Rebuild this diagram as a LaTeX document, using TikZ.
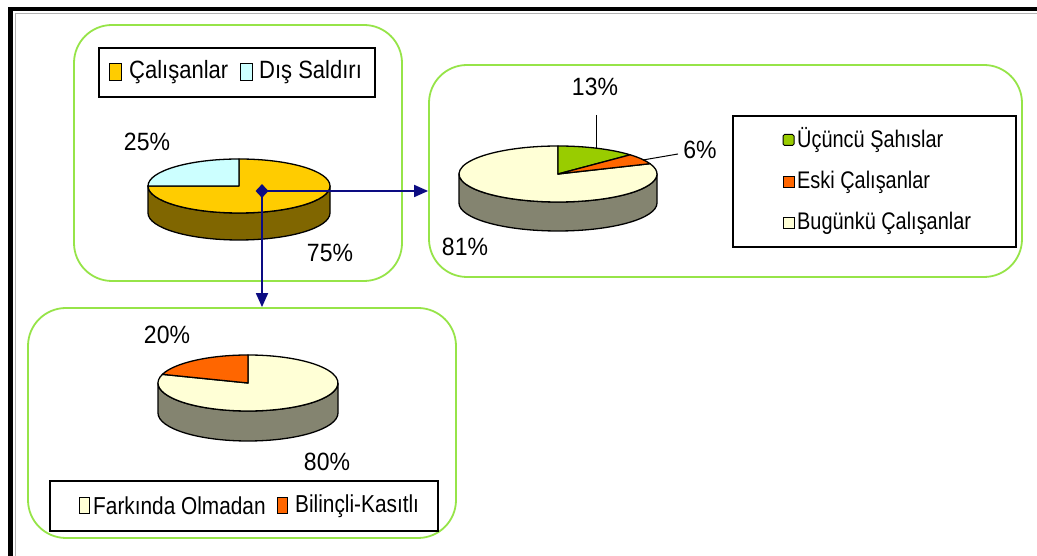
\documentclass[tikz,border=0pt]{standalone}
\usepackage{fontspec}
\setmainfont{Liberation Sans}
\newfontfamily\pctfont[FakeStretch=0.92]{Liberation Sans}
\newfontfamily\legAfont[FakeStretch=0.88]{Liberation Sans}
\newfontfamily\legBfont[FakeStretch=0.83]{Liberation Sans}
\newfontfamily\legCfont[FakeStretch=0.85]{Liberation Sans}
\usetikzlibrary{arrows.meta,shapes.geometric}

\definecolor{panelgreen}{RGB}{150,228,72}
\definecolor{arrownavy}{RGB}{12,12,130}
\definecolor{sliceyellow}{RGB}{255,204,0}
\definecolor{sidebrown}{RGB}{128,102,0}
\definecolor{slicecyan}{RGB}{204,255,255}
\definecolor{slicecream}{RGB}{255,255,214}
\definecolor{sidegrey}{RGB}{132,132,112}
\definecolor{slicegreen}{RGB}{153,204,0}
\definecolor{sliceorange}{RGB}{255,102,0}

\tikzset{
  panel/.style={draw=panelgreen, line width=1.8pt, rounded corners=38pt, inner sep=0pt},
  legendbox/.style={draw=black, line width=1.6pt, fill=white, inner sep=0pt},
  pieedge/.style={draw=black, line width=1.3pt, line join=round},
  pct/.style={font=\pctfont\fontsize{25}{27}\selectfont, inner sep=0pt},
  legtextA/.style={font=\legAfont\fontsize{25}{27}\selectfont, inner sep=0pt, anchor=west},
  legtextB/.style={font=\legBfont\fontsize{24}{26}\selectfont, inner sep=0pt, anchor=west},
  legtextC/.style={font=\legCfont\fontsize{24.5}{26}\selectfont, inner sep=0pt, anchor=west},
  swatch/.style={draw=black, line width=1pt, inner sep=0pt, minimum width=#1},
  flow/.style={draw=arrownavy, line width=1.8pt, -{Triangle[length=14pt,width=12pt]}},
  leader/.style={draw=black, line width=1pt}
}

\begin{document}
\begin{tikzpicture}[x=1pt,y=1pt]
\useasboundingbox (0,0) rectangle (1037,556);
\fill[white] (0,0) rectangle (1037,556);

% outer frame (top and left edges)
\fill[black] (8,545) rectangle (1037,549);
\fill[black] (8,0) rectangle (13,549);
\draw[gray!60, line width=0.8pt] (15,0) -- (15,543) -- (1037,543);

% rounded panels
\node[panel, minimum width=328pt, minimum height=256pt] (panelA) at (238,403) {};
\node[panel, minimum width=593pt, minimum height=212pt] (panelB) at (725.5,385) {};
\node[panel, minimum width=428pt, minimum height=230pt] (panelC) at (242,133) {};

% ---- pie: Çalışanlar / Dış Saldırı ----
\coordinate (cA) at (239,370);
\filldraw[pieedge, fill=sidebrown] ([shift={(-91,0)}]cA) arc[start angle=180,end angle=360,x radius=91,y radius=27]
  -- ++(0,-27) arc[start angle=360,end angle=180,x radius=91,y radius=27] -- cycle;
\filldraw[pieedge, fill=sliceyellow] (cA) -- ++(180:91 and 27) arc[start angle=180,end angle=450,x radius=91,y radius=27] -- cycle;
\filldraw[pieedge, fill=slicecyan] (cA) -- ++(90:91 and 27) arc[start angle=90,end angle=180,x radius=91,y radius=27] -- cycle;
\node[pct] (pA1) at (147,414) {25\%};
\node[pct] (pA2) at (330,303) {75\%};

\node[legendbox, minimum width=276pt, minimum height=49pt] (legA) at (237,483.5) {};
\node[swatch=12pt, minimum height=17pt, fill=sliceyellow] (swA1) at (115,484) {};
\node[legtextA] (tA1) at (129,484) {Çalışanlar};
\node[swatch=12pt, minimum height=17pt, fill=slicecyan] (swA2) at (246.5,484) {};
\node[legtextA] (tA2) at (259,484) {Dış Saldırı};

% ---- pie: third parties / former / current staff ----
\coordinate (cB) at (558,382);
\filldraw[pieedge, fill=sidegrey] ([shift={(-99,0)}]cB) arc[start angle=180,end angle=360,x radius=99,y radius=28]
  -- ++(0,-29) arc[start angle=360,end angle=180,x radius=99,y radius=28] -- cycle;
\filldraw[pieedge, fill=slicecream] (cB) -- ++(21.6:99 and 28) arc[start angle=21.6,end angle=-270,x radius=99,y radius=28] -- cycle;
\filldraw[pieedge, fill=slicegreen] (cB) -- ++(90:99 and 28) arc[start angle=90,end angle=43.2,x radius=99,y radius=28] -- cycle;
\filldraw[pieedge, fill=sliceorange] (cB) -- ++(43.2:99 and 28) arc[start angle=43.2,end angle=21.6,x radius=99,y radius=28] -- cycle;
\node[pct] (pB1) at (595,469) {13\%};
\node[pct] (pB2) at (700,406) {6\%};
\node[pct] (pB3) at (465,309) {81\%};
\coordinate (lB1) at (596,441);
\coordinate (lB1e) at (596,408);
\coordinate (lB2) at (678,402);
\coordinate (lB2e) at (643,396);
\draw[leader] (lB1) -- (lB1e);
\draw[leader] (lB2) -- (lB2e);

\node[legendbox, minimum width=283pt, minimum height=131pt] (legB) at (874.5,374.5) {};
\node[swatch=11pt, minimum height=11pt, fill=slicegreen, rounded corners=1.5pt] (swB1) at (788.5,416) {};
\node[legtextB] (tB1) at (797,416) {Üçüncü Şahıslar};
\node[swatch=11pt, minimum height=11pt, fill=sliceorange] (swB2) at (788.5,374) {};
\node[legtextB] (tB2) at (797,374) {Eski Çalışanlar};
\node[swatch=11pt, minimum height=11pt, fill=slicecream] (swB3) at (788.5,333) {};
\node[legtextB] (tB3) at (797,333) {Bugünkü Çalışanlar};

% ---- pie: Farkında Olmadan / Bilinçli-Kasıtlı ----
\coordinate (cC) at (248,173);
\filldraw[pieedge, fill=sidegrey] ([shift={(-90,0)}]cC) arc[start angle=180,end angle=360,x radius=90,y radius=28]
  -- ++(0,-30) arc[start angle=360,end angle=180,x radius=90,y radius=28] -- cycle;
\filldraw[pieedge, fill=slicecream] (cC) -- ++(162:90 and 28) arc[start angle=162,end angle=450,x radius=90,y radius=28] -- cycle;
\filldraw[pieedge, fill=sliceorange] (cC) -- ++(90:90 and 28) arc[start angle=90,end angle=162,x radius=90,y radius=28] -- cycle;
\node[pct] (pC1) at (167,221) {20\%};
\node[pct] (pC2) at (327,94) {80\%};

\node[legendbox, minimum width=388pt, minimum height=50pt] (legC) at (244,50) {};
\node[swatch=10pt, minimum height=16pt, fill=slicecream] (swC1) at (84,50) {};
\node[legtextC] (tC1) at (93,50) {Farkında Olmadan};
\node[swatch=10pt, minimum height=16pt, fill=sliceorange] (swC2) at (282,50) {};
\node[legtextC] (tC2) at (295,50) {Bilinçli-Kasıtlı};

% ---- connectors from the first pie ----
\node[shape=diamond, fill=arrownavy, inner sep=0pt, minimum width=13pt, minimum height=14pt] (hub) at (262,365) {};
\draw[flow] (hub.center) -- (hub.center -| panelB.west);
\draw[flow] (hub.center) -- (hub.center |- panelC.north);
\end{tikzpicture}
\end{document}
